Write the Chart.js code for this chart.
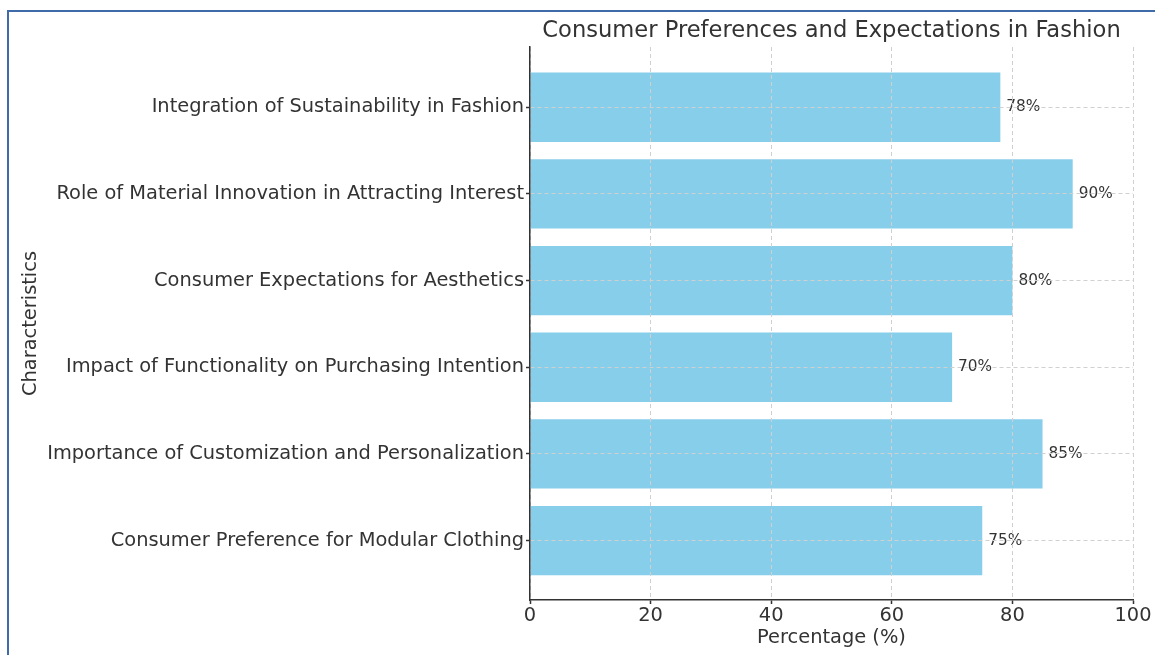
<!DOCTYPE html>
<html>
<head>
<meta charset="utf-8">
<script src="https://cdn.jsdelivr.net/npm/chart.js@4.4.0/dist/chart.umd.min.js"></script>
<style>
  html, body { margin: 0; padding: 0; background: #ffffff; width: 1155px; height: 655px; overflow: hidden; }
  #frame { position: absolute; left: 7px; top: 10px; width: 1200px; height: 700px; border: 2px solid #3f6ba9; box-sizing: border-box; }
  #c { position: absolute; left: 0; top: 0; }
</style>
</head>
<body>
<div id="frame"></div>
<canvas id="c" width="1155" height="655"></canvas>
<script>
// Categories listed bottom-to-top (index 0 is the lowest bar)
const categories = [
  "Consumer Preference for Modular Clothing",
  "Importance of Customization and Personalization",
  "Impact of Functionality on Purchasing Intention",
  "Consumer Expectations for Aesthetics",
  "Role of Material Innovation in Attracting Interest",
  "Integration of Sustainability in Fashion"
];
const percentages = [75, 85, 70, 80, 90, 78];
const xTickValues = [0, 20, 40, 60, 80, 100];
const chartTitle = 'Consumer Preferences and Expectations in Fashion';

const FONT = "'DejaVu Sans', sans-serif";
const TEXT = '#333333';

const valueLabels = {
  id: 'valueLabels',
  afterDatasetsDraw(chart) {
    const ctx = chart.ctx;
    const meta = chart.getDatasetMeta(0);
    ctx.save();
    ctx.font = '15.3px ' + FONT;
    ctx.fillStyle = TEXT;
    ctx.textAlign = 'left';
    ctx.textBaseline = 'middle';
    meta.data.forEach((bar, i) => {
      ctx.fillText(percentages[i] + '%', bar.x + 6, bar.y);
    });
    ctx.restore();
  }
};

const plotTitle = {
  id: 'plotTitle',
  afterDraw(chart) {
    const ctx = chart.ctx;
    const a = chart.chartArea;
    ctx.save();
    ctx.font = '22.6px ' + FONT;
    ctx.fillStyle = TEXT;
    ctx.textAlign = 'center';
    ctx.textBaseline = 'middle';
    ctx.fillText(chartTitle, (a.left + a.right) / 2, 31.5);
    ctx.restore();
  }
};

const gridOpts = {
  z: 1,
  color: '#d0d0d0',
  lineWidth: 1,
  offset: false,
  tickLength: 4,
  tickColor: '#333333',
  tickWidth: 1.5,
  tickBorderDash: []
};

new Chart(document.getElementById('c'), {
  type: 'bar',
  data: {
    datasets: [{
      data: percentages.map((v, i) => ({ x: v, y: i })),
      backgroundColor: '#87CEEB',
      borderWidth: 0,
      barPercentage: 0.8,
      categoryPercentage: 1.0
    }]
  },
  options: {
    indexAxis: 'y',
    responsive: false,
    animation: false,
    layout: { padding: { left: 0, right: 22, top: 47, bottom: 0 } },
    plugins: {
      legend: { display: false },
      tooltip: { enabled: false },
      title: { display: false }
    },
    scales: {
      x: {
        type: 'linear',
        min: 0,
        max: 100,
        offset: false,
        afterBuildTicks: (scale) => { scale.ticks = xTickValues.map(v => ({ value: v })); },
        afterFit: (scale) => { scale.height = 55; },
        ticks: { color: TEXT, font: { family: FONT, size: 19.4 }, padding: 0 },
        grid: Object.assign({}, gridOpts),
        border: { display: true, color: '#333333', width: 1.5, z: 2, dash: [4, 3] },
        title: {
          display: true,
          text: 'Percentage (%)',
          color: TEXT,
          font: { family: FONT, size: 19.4 },
          padding: { top: 0, bottom: 5 }
        }
      },
      y: {
        type: 'linear',
        min: -0.685,
        max: 5.695,
        offset: false,
        afterBuildTicks: (scale) => { scale.ticks = categories.map((c, i) => ({ value: i })); },
        afterFit: (scale) => { scale.width = 530; },
        ticks: {
          color: TEXT,
          font: { family: FONT, size: 19.4 },
          padding: 2,
          autoSkip: false,
          callback: (v) => categories[v]
        },
        grid: Object.assign({}, gridOpts),
        border: { display: true, color: '#333333', width: 1.5, z: 2, dash: [4, 3] },
        title: {
          display: true,
          text: 'Characteristics',
          color: TEXT,
          font: { family: FONT, size: 19.4 },
          padding: { top: 19, bottom: 0 }
        }
      }
    }
  },
  plugins: [valueLabels, plotTitle]
});
</script>
</body>
</html>
